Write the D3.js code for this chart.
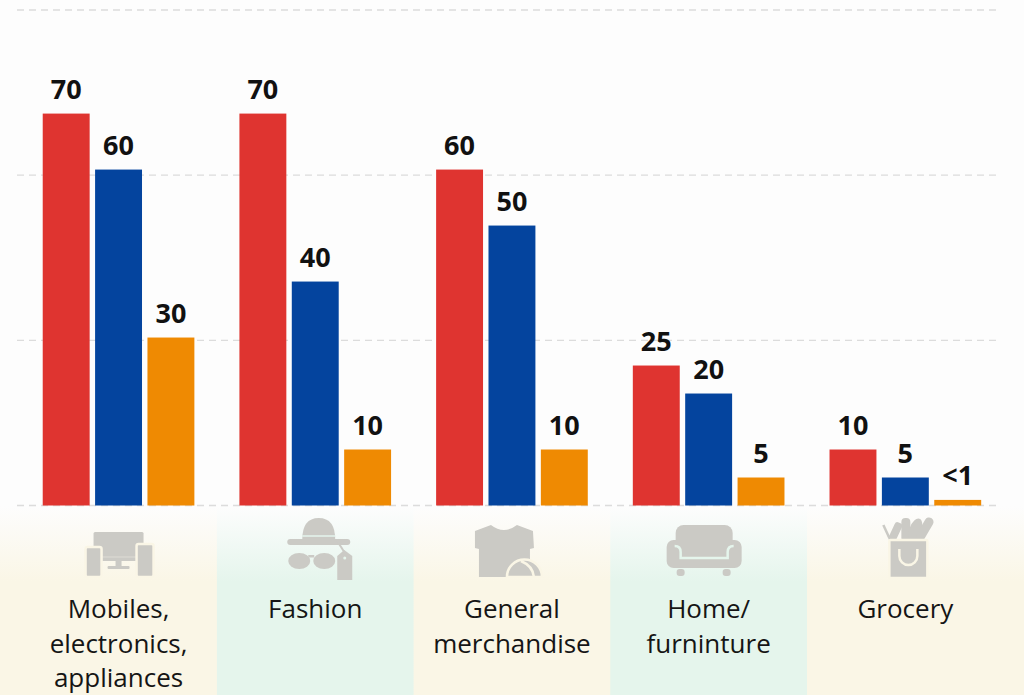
<!DOCTYPE html>
<html>
<head>
<meta charset="utf-8">
<script src="https://cdn.jsdelivr.net/npm/d3@7"></script>
<style>
  html, body { margin: 0; padding: 0; background: #fdfdfd; }
  svg { display: block; }
</style>
</head>
<body>
<div id="chart"></div>
<script>
const W = 1024;
const H = 695;

// data
const categories = ["mobiles", "fashion", "general", "home", "grocery"];
const categoryLines = [
    ["Mobiles,", "electronics,", "appliances"],
    ["Fashion"],
    ["General", "merchandise"],
    ["Home/", "furninture"],
    ["Grocery"]
];
const seriesNames = ["red", "blue", "orange"];
const redValues = [70, 70, 60, 25, 10];
const blueValues = [60, 40, 50, 20, 5];
const orangeValues = [30, 10, 10, 5, 1];
const orangeLabels = ["30", "10", "10", "5", "<1"];
const gridTicks = [0, 29.5, 59, 88.5];

const COLORS = { red: "#df3430", blue: "#04449e", orange: "#ef8a02" };
const ICON_GRAY = "#cbcac5";
const BG_CREAM = "#faf6e6";
const BG_GREEN = "#e5f5ec";

const svg = d3.select("#chart").append("svg")
    .attr("width", W)
    .attr("height", H);

const x0 = d3.scaleBand()
    .domain(categories)
    .range([20.2, 1003.7])
    .paddingInner(0.229)
    .paddingOuter(0.1145);

const x1 = d3.scaleBand()
    .domain(seriesNames)
    .range([0, x0.bandwidth()])
    .paddingInner(0.104);

const y = d3.scaleLinear()
    .domain([0, 88.5])
    .range([505.5, 10]);

// ---- background
const defs = svg.append("defs");
function fade(id, color){
    let g = defs.append("linearGradient")
        .attr("id", id)
        .attr("x1", 0).attr("y1", 0).attr("x2", 0).attr("y2", 1);
    g.append("stop").attr("offset", "0%").attr("stop-color", "#fdfdfd");
    g.append("stop").attr("offset", "40%").attr("stop-color", color);
    g.append("stop").attr("offset", "100%").attr("stop-color", color);
}
fade("creamFade", BG_CREAM);
fade("greenFade", BG_GREEN);

svg.append("rect")
    .attr("width", W).attr("height", H)
    .attr("fill", "#fdfdfd");

svg.append("rect")
    .attr("x", 0).attr("y", 506)
    .attr("width", W).attr("height", H - 506)
    .attr("fill", "url(#creamFade)");

const step = x0.step();
svg.selectAll("rect.band")
    .data(categories.filter((d, i) => i % 2 == 1))
    .enter()
    .append("rect")
    .attr("class", "band")
    .attr("x", d => x0(d) + x0.bandwidth() / 2 - step / 2)
    .attr("y", 506)
    .attr("width", step)
    .attr("height", H - 506)
    .attr("fill", "url(#greenFade)");

// ---- gridlines
svg.append("g")
    .selectAll("line")
    .data(gridTicks)
    .enter()
    .append("line")
    .attr("x1", 17).attr("x2", 1000)
    .attr("y1", d => y(d)).attr("y2", d => y(d))
    .attr("stroke", "#dcdcdc")
    .attr("stroke-width", 1.3)
    .attr("stroke-dasharray", "7,5");

// ---- bars
const rows = categories.map((c, i) => ({
    cat: c,
    vals: [
        { s: "red", v: redValues[i], label: String(redValues[i]) },
        { s: "blue", v: blueValues[i], label: String(blueValues[i]) },
        { s: "orange", v: orangeValues[i], label: orangeLabels[i] }
    ]
}));

const groups = svg.selectAll("g.group")
    .data(rows)
    .enter()
    .append("g")
    .attr("class", "group")
    .attr("transform", d => `translate(${x0(d.cat)},0)`);

groups.selectAll("rect")
    .data(d => d.vals)
    .enter()
    .append("rect")
    .attr("x", d => x1(d.s))
    .attr("y", d => y(d.v))
    .attr("width", x1.bandwidth())
    .attr("height", d => y(0) - y(d.v))
    .attr("fill", d => COLORS[d.s]);

groups.selectAll("text")
    .data(d => d.vals)
    .enter()
    .append("text")
    .attr("x", d => x1(d.s) + x1.bandwidth() / 2)
    .attr("y", d => y(d.v) - 15)
    .attr("text-anchor", "middle")
    .style("font-family", "'Open Sans', sans-serif")
    .style("font-weight", 700)
    .style("font-size", "27px")
    .style("fill", "#111")
    .text(d => d.label);

// ---- category labels
const labels = svg.selectAll("text.cat")
    .data(categories)
    .enter()
    .append("text")
    .attr("class", "cat")
    .attr("x", d => x0(d) + x0.bandwidth() / 2)
    .attr("y", 618)
    .attr("text-anchor", "middle")
    .style("font-family", "'Open Sans', sans-serif")
    .style("font-size", "26px")
    .style("fill", "#151515");

labels.selectAll("tspan")
    .data((d, i) => categoryLines[i])
    .enter()
    .append("tspan")
    .attr("x", function(){ return d3.select(this.parentNode).attr("x"); })
    .attr("dy", (d, i) => i == 0 ? 0 : 34.5)
    .text(d => d);

// ---- icons (plain shapes, local coords around the group centre)
const icons = svg.selectAll("g.icon")
    .data(categories)
    .enter()
    .append("g")
    .attr("class", "icon")
    .attr("transform", d => `translate(${x0(d) + x0.bandwidth() / 2},0)`)
    .attr("fill", ICON_GRAY);

const outline = (sel, i) => sel.attr("stroke", i % 2 == 1 ? BG_GREEN : BG_CREAM).attr("stroke-width", 2.5);

// mobiles / electronics
let ic = icons.filter((d, i) => i == 0);
ic.append("rect").attr("x", -25).attr("y", 532).attr("width", 50).attr("height", 29).attr("rx", 1.5);
ic.append("line").attr("x1", -23).attr("x2", 23).attr("y1", 557).attr("y2", 557)
    .attr("stroke", "#dedcd5").attr("stroke-width", 1);
ic.append("rect").attr("x", -3).attr("y", 561).attr("width", 6).attr("height", 6);
ic.append("rect").attr("x", -11).attr("y", 566).attr("width", 22).attr("height", 3).attr("rx", 1);
ic.append("rect").attr("x", -33).attr("y", 547).attr("width", 16).attr("height", 30).attr("rx", 2).call(outline, 0);
ic.append("rect").attr("x", 18).attr("y", 544).attr("width", 17).attr("height", 33).attr("rx", 2).call(outline, 0);

// fashion
ic = icons.filter((d, i) => i == 1);
ic.append("path").attr("d", "M-13,540 Q-13,518 3.5,518 Q20,518 20,540 Z");
ic.append("rect").attr("x", -28).attr("y", 539).attr("width", 63).attr("height", 6).attr("rx", 3);
ic.append("line").attr("x1", -13).attr("x2", 20).attr("y1", 536).attr("y2", 536)
    .attr("stroke", BG_GREEN).attr("stroke-width", 1.5);
ic.append("ellipse").attr("cx", -16).attr("cy", 561).attr("rx", 11).attr("ry", 8);
ic.append("ellipse").attr("cx", 9).attr("cy", 561).attr("rx", 11).attr("ry", 8);
ic.append("rect").attr("x", -7).attr("y", 555).attr("width", 6).attr("height", 2.5);
ic.append("path").attr("d", "M22,541 L29,552").attr("stroke", ICON_GRAY).attr("stroke-width", 2).attr("fill", "none");
ic.append("path").attr("d", "M22,556 L29,550 L37,556 L37,580 L22,580 Z");
ic.append("circle").attr("cx", 29.5).attr("cy", 558).attr("r", 1.5).attr("fill", BG_GREEN);

// general merchandise
ic = icons.filter((d, i) => i == 2);
ic.append("path").attr("d",
    "M-37,531 L-21,525 Q-8,535 5,525 L21,531 L22,548 L18,549 L18,577 L-33,577 L-33,549 L-37,548 Z");
ic.append("path").attr("d", "M-5,577 A17.5,17.5 0 0 1 30,577 Z").call(outline, 2);
ic.append("path").attr("d", "M9,561 Q21,566 22,577").attr("fill", "none")
    .attr("stroke", BG_CREAM).attr("stroke-width", 2.5);

// home / furniture
ic = icons.filter((d, i) => i == 3);
ic.append("rect").attr("x", -33).attr("y", 525).attr("width", 57).attr("height", 36).attr("rx", 8);
ic.append("rect").attr("x", -42).attr("y", 540).attr("width", 75).attr("height", 28).attr("rx", 7);
ic.append("path").attr("d", "M-34,546 Q-28,546 -28,552 L-28,558 L19,558 L19,552 Q19,546 25,546")
    .attr("fill", "none").attr("stroke", BG_GREEN).attr("stroke-width", 2.5);
ic.append("rect").attr("x", -32).attr("y", 569).attr("width", 8).attr("height", 7).attr("rx", 3);
ic.append("rect").attr("x", 14).attr("y", 569).attr("width", 8).attr("height", 7).attr("rx", 3);

// grocery
ic = icons.filter((d, i) => i == 4);
ic.append("rect").attr("x", -14).attr("y", 522).attr("width", 8).attr("height", 20).attr("rx", 3)
    .attr("transform", "rotate(25,-10,532)");
ic.append("rect").attr("x", -4).attr("y", 518).attr("width", 9).attr("height", 24).attr("rx", 4);
ic.append("ellipse").attr("cx", 10).attr("cy", 530).attr("rx", 6).attr("ry", 12)
    .attr("transform", "rotate(20,10,530)");
ic.append("rect").attr("x", 15).attr("y", 516).attr("width", 9).attr("height", 26).attr("rx", 4.5)
    .attr("transform", "rotate(30,19,529)");
ic.append("path").attr("d", "M-22,525 L-16,538").attr("stroke", ICON_GRAY).attr("stroke-width", 2.5);
ic.append("rect").attr("x", -16).attr("y", 540).attr("width", 38).attr("height", 38).attr("rx", 1).call(outline, 4);
ic.append("path").attr("d", "M-6,549 L-6,556 A9,9 0 0 0 12,556 L12,549")
    .attr("fill", "none").attr("stroke", BG_CREAM).attr("stroke-width", 2.5);
</script>
</body>
</html>
